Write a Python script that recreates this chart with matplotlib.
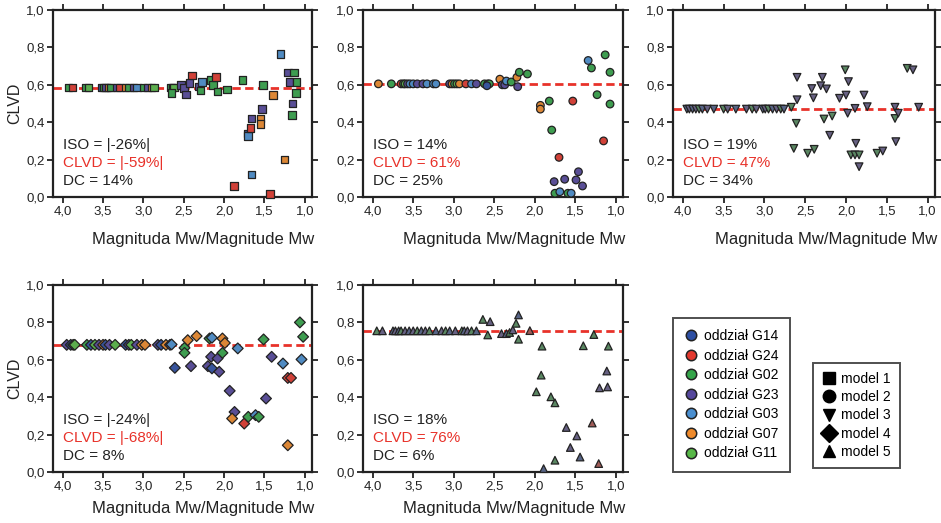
import matplotlib.pyplot as plt
import numpy as np
from matplotlib.lines import Line2D
from matplotlib.colors import to_rgb
from matplotlib.ticker import FuncFormatter

plt.rcParams['font.family'] = ['Liberation Sans', 'DejaVu Sans']

# grupy (oddziały) i ich kolory
groups = ['oddział G14', 'oddział G24', 'oddział G02', 'oddział G23',
          'oddział G03', 'oddział G07', 'oddział G11']
group_colors = ['#2d4fa3', '#e2382e', '#35a54a', '#55479c',
                '#4a8fd0', '#ef8a2b', '#58b848']
models = ['model 1', 'model 2', 'model 3', 'model 4', 'model 5']
model_markers = ['s', 'o', 'v', 'D', '^']

# ---- panel 1 : model 1 ----
m1_mw = [3.93, 3.88, 3.71, 3.68, 3.52, 3.49, 3.46, 3.43, 3.40, 3.33, 3.29, 3.22, 3.18, 3.12,
         3.08, 3.00, 2.95, 2.90, 2.87, 2.66, 2.64, 2.62,
         2.65, 2.53, 2.50, 2.47, 2.43, 2.40, 2.31, 2.29, 2.27, 2.16, 2.14, 2.10, 2.08, 1.96,
         1.88, 1.77, 1.71, 1.70, 1.67, 1.66, 1.66, 1.55, 1.55, 1.53, 1.52, 1.43, 1.39, 1.30,
         1.25, 1.21, 1.19, 1.16, 1.15, 1.13, 1.11, 1.10]
m1_clvd = [0.585] * 22 + \
          [0.555, 0.60, 0.583, 0.548, 0.61, 0.65, 0.59, 0.57, 0.615, 0.627, 0.60, 0.643, 0.565, 0.575,
           0.06, 0.625, 0.34, 0.325, 0.37, 0.42, 0.12, 0.42, 0.39, 0.47, 0.60, 0.015, 0.545, 0.765,
           0.20, 0.665, 0.615, 0.44, 0.50, 0.665, 0.555, 0.615]
m1_grp = [2, 1, 2, 6, 0, 2, 3, 5, 2, 3, 1, 5, 2, 3, 4, 2, 3, 5, 6, 2, 4, 6,
          2, 3, 3, 3, 3, 1, 3, 2, 4, 2, 2, 1, 2, 2,
          1, 2, 0, 4, 1, 3, 4, 5, 5, 3, 2, 1, 5, 4,
          5, 3, 3, 2, 3, 2, 2, 2]

# ---- panel 2 : model 2 ----
m2_mw = [3.93, 3.77, 3.65, 3.62, 3.60, 3.57, 3.54, 3.50, 3.45, 3.38, 3.33, 3.25, 3.22, 3.05,
         3.02, 2.99, 2.96, 2.93, 2.85, 2.78, 2.72, 2.62, 2.58, 2.56,
         2.59, 2.43, 2.40, 2.37, 2.35, 2.29, 2.22, 2.21, 2.19, 2.09, 1.93, 1.93, 1.82, 1.79,
         1.76, 1.75, 1.70, 1.69, 1.63, 1.59, 1.55, 1.53, 1.49, 1.46, 1.41, 1.34, 1.30, 1.23,
         1.15, 1.13, 1.07, 1.07]
m2_clvd = [0.605] * 24 + \
          [0.595, 0.63, 0.60, 0.60, 0.62, 0.615, 0.64, 0.59, 0.667, 0.658, 0.49, 0.47, 0.513, 0.358,
           0.082, 0.02, 0.212, 0.028, 0.095, 0.02, 0.02, 0.513, 0.091, 0.135, 0.059, 0.73, 0.69, 0.547,
           0.30, 0.76, 0.667, 0.497]
m2_grp = [5, 2, 1, 2, 6, 3, 4, 4, 3, 3, 4, 4, 4, 3, 5, 2, 6, 5, 1, 4, 3, 2, 0, 2,
          0, 5, 3, 3, 4, 2, 5, 3, 2, 2, 5, 5, 2, 2,
          3, 2, 1, 4, 3, 2, 4, 1, 3, 3, 3, 4, 2, 2,
          1, 2, 2, 2]

# ---- panel 3 : model 3 ----
m3_mw = [3.95, 3.92, 3.88, 3.84, 3.80, 3.76, 3.70, 3.62, 3.50, 3.45, 3.35, 3.22, 3.15, 3.10,
         3.02, 2.99, 2.95, 2.90, 2.85, 2.80, 2.76,
         2.67, 2.60, 2.60, 2.61, 2.64, 2.47, 2.39, 2.42, 2.40, 2.29, 2.31, 2.24, 2.27, 2.17,
         2.20, 2.08, 2.01, 1.97, 2.00, 1.98, 1.89, 1.88, 1.94, 1.89, 1.84, 1.84, 1.78, 1.74,
         1.62, 1.55, 1.40, 1.40, 1.36, 1.39, 1.25, 1.18, 1.11]
m3_clvd = [0.47] * 21 + \
          [0.48, 0.64, 0.52, 0.394, 0.26, 0.234, 0.255, 0.58, 0.53, 0.64, 0.595, 0.578, 0.417, 0.433,
           0.33, 0.528, 0.68, 0.617, 0.545, 0.448, 0.474, 0.287, 0.225, 0.225, 0.225, 0.162, 0.545, 0.483,
           0.234, 0.246, 0.48, 0.42, 0.448, 0.296, 0.688, 0.68, 0.48]
m3_grp = [0, 3, 0, 3, 2, 0, 3, 0, 2, 3, 0, 3, 2, 3, 0, 3, 2, 0, 3, 2, 0,
          2, 3, 3, 2, 2, 2, 2, 3, 3, 3, 3, 3, 2, 2,
          3, 3, 2, 3, 3, 3, 3, 3, 2, 2, 2, 3, 3, 3,
          2, 3, 3, 2, 3, 3, 2, 3, 3]

# ---- panel 4 : model 4 ----
m4_mw = [3.95, 3.90, 3.87, 3.85, 3.70, 3.65, 3.60, 3.55, 3.50, 3.47, 3.42, 3.35, 3.22, 3.18,
         3.15, 3.08, 3.02, 2.98, 2.82, 2.78, 2.72, 2.67,
         2.65, 2.61, 2.49, 2.49, 2.45, 2.41, 2.34, 2.20, 2.18, 2.15, 2.16, 2.15, 2.08, 2.06,
         2.02, 2.02, 1.99, 1.93, 1.87, 1.90, 1.83, 1.75, 1.70, 1.61, 1.57, 1.51, 1.48, 1.41,
         1.27, 1.21, 1.17, 1.21, 1.06, 1.02, 1.04]
m4_clvd = [0.68] * 22 + \
          [0.682, 0.557, 0.664, 0.637, 0.705, 0.566, 0.727, 0.566, 0.714, 0.718, 0.616, 0.554, 0.607,
           0.536, 0.637, 0.714, 0.69, 0.434, 0.321, 0.286, 0.661, 0.259, 0.295, 0.304, 0.295, 0.709,
           0.393, 0.616, 0.58, 0.503, 0.503, 0.143, 0.80, 0.723, 0.602]
m4_grp = [3, 0, 2, 6, 2, 0, 6, 3, 5, 0, 3, 6, 0, 3, 6, 3, 5, 5, 3, 0, 5, 3,
          4, 0, 2, 2, 5, 3, 5, 3, 2, 4, 3, 0, 3, 3,
          2, 5, 5, 3, 3, 5, 4, 1, 2, 4, 2, 2, 3, 3,
          4, 1, 1, 5, 2, 2, 4]

# ---- panel 5 : model 5 ----
m5_mw = [3.95, 3.88, 3.75, 3.72, 3.68, 3.65, 3.60, 3.55, 3.50, 3.45, 3.40, 3.35, 3.30, 3.22,
         3.15, 3.10, 3.05, 2.98, 2.90, 2.87, 2.83, 2.78, 2.72,
         2.64, 2.55, 2.58, 2.41, 2.35, 2.31, 2.27, 2.20, 2.23, 2.20, 2.06, 1.91, 1.92, 1.98,
         1.80, 1.75, 1.89, 1.75, 1.61, 1.56, 1.48, 1.44, 1.40, 1.29, 1.27, 1.21, 1.11, 1.20,
         1.10, 1.09]
m5_clvd = [0.755] * 23 + \
          [0.816, 0.804, 0.733, 0.74, 0.74, 0.746, 0.76, 0.84, 0.795, 0.71, 0.756, 0.673, 0.518, 0.429,
           0.402, 0.37, 0.018, 0.063, 0.238, 0.131, 0.193, 0.08, 0.675, 0.262, 0.735, 0.045, 0.54, 0.45,
           0.455, 0.673]
m5_grp = [2, 3, 0, 3, 0, 2, 3, 0, 3, 2, 0, 3, 2, 0, 3, 2, 0, 3, 2, 0, 3, 2, 0,
          2, 3, 2, 3, 0, 2, 3, 0, 2, 2, 1, 2, 2, 2,
          2, 2, 0, 2, 3, 3, 3, 0, 2, 1, 2, 1, 3, 3,
          3, 2]

panels = [
    (m1_mw, m1_clvd, m1_grp, 0, 0.585, ['ISO = |-26%|', 'CLVD = |-59%|', 'DC = 14%'], 0.15),
    (m2_mw, m2_clvd, m2_grp, 1, 0.605, ['ISO = 14%', 'CLVD = 61%', 'DC = 25%'], 0.15),
    (m3_mw, m3_clvd, m3_grp, 2, 0.470, ['ISO = 19%', 'CLVD = 47%', 'DC = 34%'], 0.6),
    (m4_mw, m4_clvd, m4_grp, 3, 0.680, ['ISO = |-24%|', 'CLVD = |-68%|', 'DC = 8%'], 0.15),
    (m5_mw, m5_clvd, m5_grp, 4, 0.755, ['ISO = 18%', 'CLVD = 76%', 'DC = 6%'], 0.6),
]

# pozycje osi w pikselach (lewo, góra, prawo, dół)
W, H = 941, 523
boxes = [(53, 10, 312, 197), (363, 10, 623, 197), (673, 10, 935, 197),
         (53, 285, 312, 472), (363, 285, 623, 472)]


def mute(c, amount):
    # zmieszanie koloru z szarym
    r = np.array(to_rgb(c))
    return tuple(r * (1 - amount) + np.array([0.45, 0.45, 0.45]) * amount)


fig = plt.figure(figsize=(W / 100, H / 100), dpi=100)
comma = FuncFormatter(lambda v, p: f'{v:.1f}'.replace('.', ','))

for i, (mw, clvd, grp, mi, line, txt, gray) in enumerate(panels):
    l, t, r, b = boxes[i]
    ax = fig.add_axes([l / W, 1 - b / H, (r - l) / W, (b - t) / H])
    ax.set_xlim(4.12, 0.91)
    ax.set_ylim(0, 1)
    ax.axhline(line, color='#e8322a', ls=(0, (3, 1.6)), lw=2, zorder=1)
    fc = [mute(group_colors[g], gray) for g in grp]
    ax.scatter(mw, clvd, marker=model_markers[mi], s=30, c=fc,
               edgecolors='#222222', linewidths=0.9, zorder=3, clip_on=False)
    ax.set_xticks([4.0, 3.5, 3.0, 2.5, 2.0, 1.5, 1.0])
    ax.set_yticks([0, 0.2, 0.4, 0.6, 0.8, 1.0])
    ax.xaxis.set_major_formatter(comma)
    ax.yaxis.set_major_formatter(comma)
    ax.tick_params(direction='out', length=4, width=1.3, top=True, right=True,
                   labelsize=9.5, colors='#222222', pad=2)
    for s in ax.spines.values():
        s.set_linewidth(1.6)
        s.set_color('#222222')
    ax.set_xlabel('Magnituda Mw/Magnitude Mw', fontsize=12, color='#222222')
    ax.xaxis.set_label_coords(1.01, -0.185 if i < 3 else -0.155)
    ax.xaxis.label.set_ha('right')
    if i in (0, 3):
        ax.set_ylabel('CLVD', fontsize=11.5, labelpad=3, color='#222222')
    for k, (s, col) in enumerate(zip(txt, ['#222222', '#e8322a', '#222222'])):
        ax.text(0.04, 0.28 - k * 0.097, s, transform=ax.transAxes, fontsize=11,
                color=col, va='center', ha='left')

# legenda oddziałów
h1 = [Line2D([], [], ls='', marker='o', ms=7.5, mfc=c, mec='#222222', mew=1.1)
      for c in group_colors]
leg1 = fig.legend(h1, groups, loc='upper left', bbox_to_anchor=(673 / W, 1 - 318 / H),
                  fontsize=10, frameon=True, fancybox=False, edgecolor='#222222',
                  handlelength=1.0, handletextpad=0.45, labelspacing=0.4, borderpad=0.8,
                  borderaxespad=0)
leg1.get_frame().set_linewidth(1.4)

# legenda modeli
h2 = [Line2D([], [], ls='', marker=m, ms=9, mfc='black', mec='black') for m in model_markers]
leg2 = fig.legend(h2, models, loc='upper left', bbox_to_anchor=(813 / W, 1 - 363 / H),
                  fontsize=10, frameon=True, fancybox=False, edgecolor='#222222',
                  handlelength=1.0, handletextpad=0.35, labelspacing=0.3, borderpad=0.65,
                  borderaxespad=0)
leg2.get_frame().set_linewidth(1.4)

fig.savefig('out.png', dpi=100)
